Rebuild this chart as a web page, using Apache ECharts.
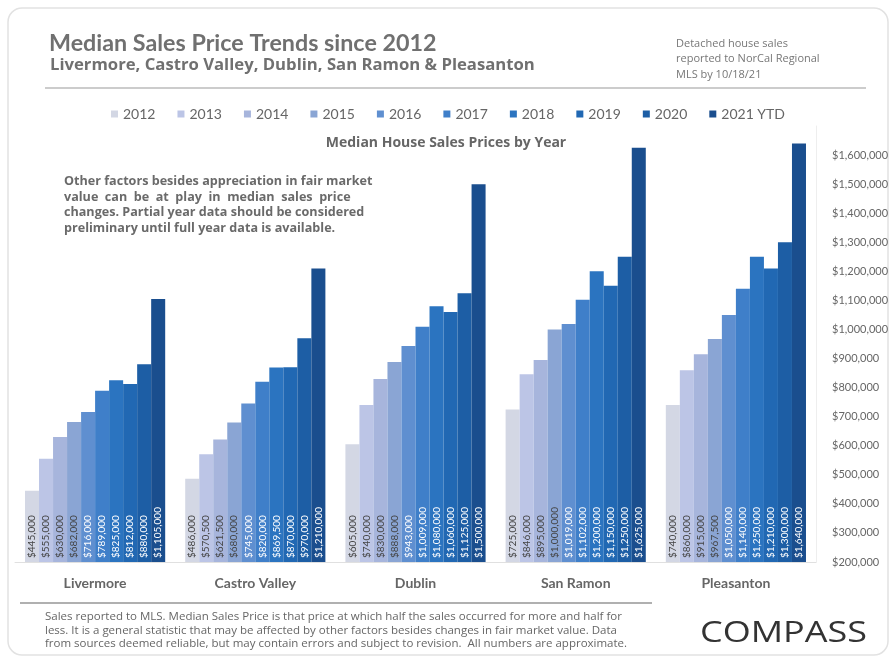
<!DOCTYPE html>
<html><head><meta charset="utf-8">
<script src="https://cdn.jsdelivr.net/npm/echarts@6/dist/echarts.min.js"></script>
<style>html,body{margin:0;padding:0;background:#fff}#c{width:896px;height:661px}</style>
</head><body><div id="c"></div>
<script>
const cities = ['Livermore', 'Castro Valley', 'Dublin', 'San Ramon', 'Pleasanton'];
const years = ['2012', '2013', '2014', '2015', '2016', '2017', '2018', '2019', '2020', '2021 YTD'];
const v2012 = [445000, 486000, 605000, 725000, 740000];
const v2013 = [555000, 570500, 740000, 846000, 860000];
const v2014 = [630000, 621500, 830000, 895000, 915000];
const v2015 = [682000, 680000, 888000, 1000000, 967500];
const v2016 = [716000, 745000, 943000, 1019000, 1050000];
const v2017 = [789000, 820000, 1009000, 1102000, 1140000];
const v2018 = [825000, 869500, 1080000, 1200000, 1250000];
const v2019 = [812000, 870000, 1060000, 1150000, 1210000];
const v2020 = [880000, 970000, 1125000, 1250000, 1300000];
const v2021 = [1105000, 1210000, 1500000, 1625000, 1640000];
const seriesValues = [v2012, v2013, v2014, v2015, v2016, v2017, v2018, v2019, v2020, v2021];
const colors = ['#d3d7e4', '#bcc5e6', '#a7b5dc', '#8aa5d4', '#5f8fd0', '#3f7fc9', '#2b74c0', '#2168b3', '#1d5ea5', '#1a4e8e'];
const labelColors = ['#444', '#444', '#444', '#444', '#fff', '#fff', '#fff', '#fff', '#fff', '#fff'];

const fmt = v => '$' + v.toLocaleString('en-US');
const chart = echarts.init(document.getElementById('c'));
const FONT = 'Lato';
const FONT2 = 'Open Sans';
chart.setOption({
  animation: false,
  textStyle: { fontFamily: FONT },
  legend: {
    top: 102, left: 'center',
    itemWidth: 7, itemHeight: 7, itemGap: 22,
    icon: 'rect',
    textStyle: { fontSize: 14, color: '#666', fontFamily: FONT },
    data: years
  },
  title: [
    { text: 'Median Sales Price Trends since 2012', left: 44, top: 27, textStyle: { fontSize: 23.3, fontWeight: 'bold', color: '#707070', fontFamily: FONT } },
    { text: 'Livermore, Castro Valley, Dublin, San Ramon & Pleasanton', left: 45, top: 52, textStyle: { fontSize: 16.7, fontWeight: 'bold', color: '#707070', fontFamily: FONT2 } },
    { text: 'Median House Sales Prices by Year', left: 441, top: 131, textAlign: 'center', textStyle: { fontSize: 14, fontWeight: 'bold', color: '#666', fontFamily: FONT2 } }
  ],
  grid: { left: 15, right: 80, top: 126, bottom: 99 },
  xAxis: {
    type: 'category', data: cities,
    axisTick: { show: false },
    axisLine: { lineStyle: { color: '#e0e0e0' } },
    axisLabel: { fontSize: 14, color: '#666', margin: 14, fontWeight: 'bold', fontFamily: FONT }
  },
  yAxis: {
    type: 'value', position: 'right', min: 200000, max: 1700000, interval: 100000,
    splitLine: { show: false },
    axisLine: { show: true, lineStyle: { color: '#eeeeee' } },
    axisTick: { show: false },
    axisLabel: { fontSize: 11, color: '#666', margin: 16, showMaxLabel: false, formatter: v => fmt(v), fontFamily: FONT }
  },
  series: years.map((y, i) => ({
    name: y, type: 'bar', data: seriesValues[i],
    barGap: '0%', barCategoryGap: '12.5%',
    itemStyle: { color: colors[i] },
    label: {
      show: true, position: 'insideBottom', rotate: 90, align: 'left', verticalAlign: 'middle',
      distance: 4, fontSize: 10, color: labelColors[i], formatter: p => fmt(p.value), fontFamily: FONT
    }
  })),
  graphic: [
    { type: 'rect', shape: { x: 8, y: 8, width: 880, height: 647, r: 14 }, style: { fill: 'none', stroke: '#e2e2e2', lineWidth: 1.5 }, silent: true },
    { type: 'line', shape: { x1: 45, y1: 88, x2: 866, y2: 88 }, style: { stroke: '#9a9a9a', lineWidth: 1.2 } },
    { type: 'line', shape: { x1: 20, y1: 603, x2: 652, y2: 603 }, style: { stroke: '#b0b0b0', lineWidth: 2 } },
    { type: 'text', left: 676, top: 36, style: { text: 'Detached house sales\nreported to NorCal Regional\nMLS by 10/18/21', fontSize: 11, lineHeight: 15.5, fill: '#777', fontFamily: FONT2 } },
    { type: 'text', left: 64, top: 174, style: { text: 'Other factors besides appreciation in fair market\nvalue  can  be  at  play  in  median  sales  price\nchanges. Partial year data should be considered\npreliminary until full year data is available.', fontSize: 12.6, lineHeight: 15.5, fontWeight: 'bold', fill: '#6a6a6a', fontFamily: FONT2 } },
    { type: 'text', left: 45, top: 610, style: { text: 'Sales reported to MLS. Median Sales Price is that price at which half the sales occurred for more and half for\nless. It is a general statistic that may be affected by other factors besides changes in fair market value. Data\nfrom sources deemed reliable, but may contain errors and subject to revision.  All numbers are approximate.', fontSize: 11.5, lineHeight: 13.5, fill: '#666', fontFamily: FONT2 } },
    { type: 'text', x: 700, y: 618, scaleX: 1.2, style: { text: 'COMPASS', fontSize: 30, fill: '#333', fontFamily: FONT2 } }
  ]
});
</script></body></html>
